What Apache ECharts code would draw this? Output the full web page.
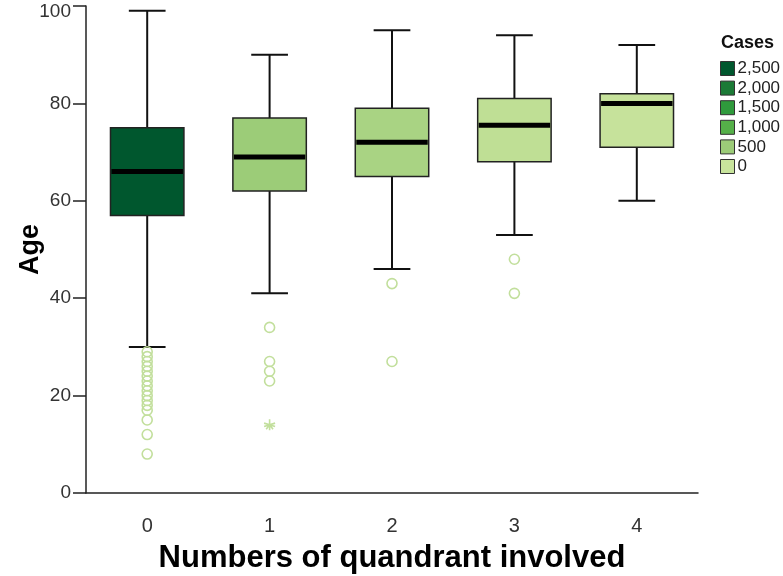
<!DOCTYPE html>
<html>
<head>
<meta charset="utf-8">
<script src="https://cdn.jsdelivr.net/npm/echarts@6/dist/echarts.min.js"></script>
<style>html,body{margin:0;padding:0;background:#fff;}#c{width:783px;height:576px;}</style>
</head>
<body>
<div id="c"></div>
<script>
const categories = ['0', '1', '2', '3', '4'];
const lowWhisker = [30, 41, 46, 53, 60];
const q1 = [57, 62, 65, 68, 71];
const median = [66, 69, 72, 75.5, 80];
const q3 = [75, 77, 79, 81, 82];
const highWhisker = [99, 90, 95, 94, 92];
const boxColors = ['#00572e', '#9ccc78', '#a9d383', '#bfdf95', '#c6e29b'];
const outliers0 = [29, 28, 27, 26, 25, 24, 23, 22, 21, 20, 19, 18, 17, 15, 12, 8];
const outliers1 = [34, 27, 25, 23];
const extremes1 = [14];
const outliers2 = [43, 27];
const outliers3 = [48, 41];
const legendLabels = ['2,500', '2,000', '1,500', '1,000', '500', '0'];
const legendColors = ['#00572e', '#1b7a36', '#2f9a3c', '#55b049', '#9ccc78', '#c8e49c'];
const yTicks = [0, 20, 40, 60, 80, 100];

const boxData = categories.map((c, i) => [i, lowWhisker[i], q1[i], median[i], q3[i], highWhisker[i]]);
const outlierData = [];
outliers0.forEach(v => outlierData.push([0, v]));
outliers1.forEach(v => outlierData.push([1, v]));
outliers2.forEach(v => outlierData.push([2, v]));
outliers3.forEach(v => outlierData.push([3, v]));
const extremeData = extremes1.map(v => [1, v]);

function renderBox(params, api) {
  const x = api.value(0);
  const pLow = api.coord([x, api.value(1)]);
  const pQ1 = api.coord([x, api.value(2)]);
  const pMed = api.coord([x, api.value(3)]);
  const pQ3 = api.coord([x, api.value(4)]);
  const pHigh = api.coord([x, api.value(5)]);
  const band = api.size([1, 0])[0];
  const bw = band * 0.6, cw = band * 0.3;
  const cx = pMed[0];
  const lineStyle = { stroke: '#111', lineWidth: 2 };
  return {
    type: 'group',
    children: [
      { type: 'line', shape: { x1: cx, y1: pHigh[1], x2: cx, y2: pQ3[1] }, style: lineStyle },
      { type: 'line', shape: { x1: cx, y1: pQ1[1], x2: cx, y2: pLow[1] }, style: lineStyle },
      { type: 'line', shape: { x1: cx - cw / 2, y1: pHigh[1], x2: cx + cw / 2, y2: pHigh[1] }, style: lineStyle },
      { type: 'line', shape: { x1: cx - cw / 2, y1: pLow[1], x2: cx + cw / 2, y2: pLow[1] }, style: lineStyle },
      { type: 'rect', shape: { x: cx - bw / 2, y: pQ3[1], width: bw, height: pQ1[1] - pQ3[1] },
        style: { fill: boxColors[params.dataIndex], stroke: '#222', lineWidth: 1.5 } },
      { type: 'line', shape: { x1: cx - bw / 2 + 1, y1: pMed[1], x2: cx + bw / 2 - 1, y2: pMed[1] },
        style: { stroke: '#000', lineWidth: 5 } }
    ]
  };
}

const legendSeries = legendLabels.map((name, i) => ({
  name: name, type: 'scatter', data: [], itemStyle: { color: legendColors[i], opacity: 1 }
}));

const labelFont = { fontFamily: 'Liberation Sans, Arial', fontSize: 19, color: '#333' };

const chart = echarts.init(document.getElementById('c'));
chart.setOption({
  animation: false,
  backgroundColor: '#fff',
  title: {
    text: 'Cases', left: 716, top: 29,
    textStyle: { fontFamily: 'Liberation Sans, Arial', fontWeight: 'bold', fontSize: 18, color: '#111' }
  },
  legend: {
    orient: 'vertical', left: 720, top: 60, padding: 0,
    itemWidth: 14, itemHeight: 14, itemGap: 2.6,
    selectedMode: false,
    textStyle: { fontFamily: 'Liberation Sans, Arial', fontSize: 17, color: '#222', padding: [0, 0, 0, -2] },
    data: legendLabels.map((name, i) => ({
      name: name, icon: 'rect',
      itemStyle: { color: legendColors[i], borderColor: '#333', borderWidth: 1, opacity: 1 }
    }))
  },
  grid: { left: 86, right: 85, top: 6, bottom: 83, containLabel: false, outerBoundsMode: 'none' },
  xAxis: {
    type: 'category', data: categories, boundaryGap: true,
    name: 'Numbers of quandrant involved', nameLocation: 'middle', nameGap: 50, nameMoveOverlap: false,
    nameTextStyle: { fontFamily: 'Liberation Sans, Arial', fontWeight: 'bold', fontSize: 31, color: '#000' },
    axisLine: { lineStyle: { color: '#222', width: 1.5 } },
    axisTick: { alignWithLabel: true, length: 13, lineStyle: { color: '#222', width: 1.5 } },
    axisLabel: { fontFamily: 'Liberation Sans, Arial', fontSize: 20, color: '#333', margin: 23 },
    splitLine: { show: false }
  },
  yAxis: {
    type: 'value', min: 0, max: 100, interval: 20,
    name: 'Age', nameLocation: 'middle', nameGap: 42, nameMoveOverlap: false,
    nameTextStyle: { fontFamily: 'Liberation Sans, Arial', fontWeight: 'bold', fontSize: 27, color: '#000' },
    axisLine: { show: true, lineStyle: { color: '#222', width: 1.5 } },
    axisTick: { show: true, length: 13, lineStyle: { color: '#222', width: 1.5 } },
    axisLabel: Object.assign({}, labelFont, {
      margin: 15,
      formatter: v => yTicks.includes(v) ? (v === 100 ? '{t|' + v + '}' : String(v)) : '',
      rich: { t: Object.assign({}, labelFont, { padding: [12, 0, 0, 0] }) }
    }),
    splitLine: { show: false }
  },
  series: [
    { type: 'custom', name: 'box', renderItem: renderBox, data: boxData, z: 2 },
    { type: 'scatter', name: 'outliers', data: outlierData, symbol: 'circle', symbolSize: 10,
      itemStyle: { color: 'rgba(0,0,0,0)', borderColor: '#c2df9c', borderWidth: 1.6, opacity: 1 }, z: 3 },
    { type: 'scatter', name: 'extremes', data: extremeData,
      symbol: 'path://M0,-10L0,10M-9.5,-3.1L9.5,3.1M-9.5,3.1L9.5,-3.1M-5.9,8.1L0,0L5.9,8.1', symbolSize: 11,
      itemStyle: { color: 'rgba(0,0,0,0)', borderColor: '#c2df9c', borderWidth: 1.6, opacity: 1 }, z: 3 }
  ].concat(legendSeries)
});
</script>
</body>
</html>
